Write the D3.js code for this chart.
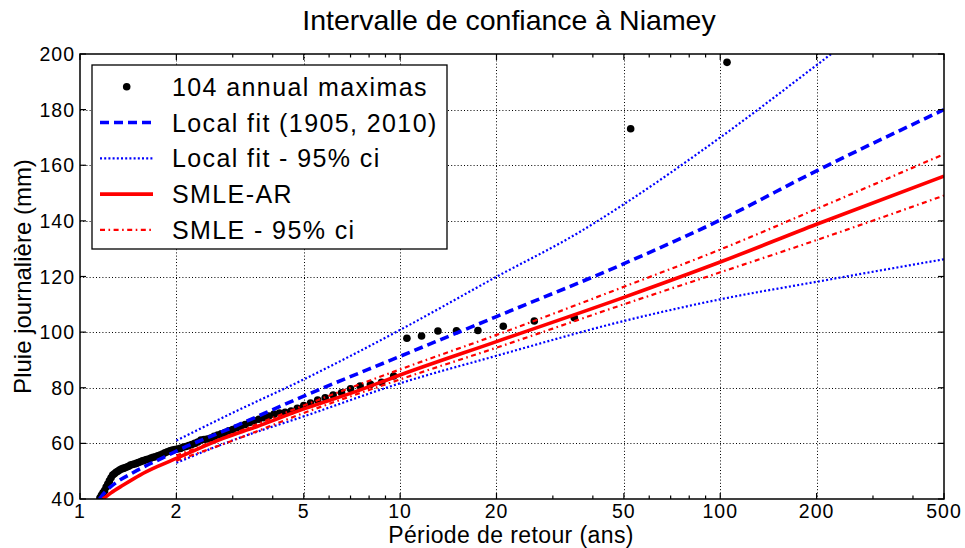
<!DOCTYPE html>
<html>
<head>
<meta charset="utf-8">
<script src="https://cdn.jsdelivr.net/npm/d3@7/dist/d3.min.js"></script>
<style>
  html, body { margin: 0; padding: 0; background: #fff; }
  svg { display: block; font-family: "Liberation Sans", Arial, Helvetica, sans-serif; }
</style>
</head>
<body>
<svg id="chart" width="965" height="548"></svg>
<script>
// ---- Data ----------------------------------------------------------------
// Annual daily-rainfall maxima at Niamey, sorted in decreasing order (mm).
// Return period of rank r is (nYears + 1) / r; values below 40 mm fall off the axis.
const nYears = 104;
const maxima = [
  197.0, 173.1, 105.2, 104.0, 102.1, 100.6, 100.5, 100.4, 98.6, 97.8,
  84.2, 82.0, 81.2, 80.6, 79.6, 78.2, 77.4, 76.4, 75.6, 74.5,
  73.6, 72.6, 71.6, 71.2, 70.9, 70.5, 69.8, 69.2, 68.7, 68.1,
  67.5, 66.8, 66.1, 65.6, 65.0, 64.5, 63.9, 63.4, 63.0, 62.5,
  61.9, 61.6, 61.4, 61.2, 60.5, 60.0, 59.6, 59.2, 58.9, 58.6,
  58.2, 58.0, 57.8, 57.6, 57.3, 57.0, 56.6, 56.2, 55.8, 55.5,
  55.2, 55.0, 54.7, 54.4, 54.2, 53.9, 53.7, 53.4, 53.1, 52.8,
  52.6, 52.4, 52.2, 51.8, 51.5, 51.2, 51.0, 50.8, 50.4, 50.0,
  49.6, 49.1, 48.6, 47.6, 46.5, 45.4, 44.3, 43.0, 42.2, 41.3,
  40.3
];

// Local GEV fit (1905, 2010): return level curve
const localFitT   = [1.15, 1.2, 1.3, 1.45, 1.6, 1.8, 2, 3, 5, 10, 20, 50, 100, 200, 500];
const localFitVal = [40.0, 42.6, 46.0, 49.2, 51.8, 54.6, 57.2, 65.8, 77.0, 91.3, 105.6, 124.6, 140.3, 158.0, 180.0];

// Local fit 95% confidence bounds
const localUpperT   = [2, 3, 5, 10, 20, 36.5, 50, 100, 200, 250];
const localUpperVal = [61.0, 71.0, 83.0, 100.8, 119.9, 136.1, 146.0, 170.0, 196.0, 204.5];
const localLowerT   = [2, 3, 5, 10, 20, 50, 100, 200, 500];
const localLowerVal = [53.0, 61.1, 69.7, 81.6, 91.5, 104.0, 111.8, 118.1, 126.2];

// SMLE-AR return level curve
const smleT   = [1.18, 1.25, 1.365, 1.54, 1.74, 2, 2.8, 3.56, 5, 7.33, 10, 20, 50, 100, 200, 500];
const smleVal = [40.0, 42.2, 45.0, 48.6, 51.6, 54.6, 61.8, 66.0, 72.4, 78.8, 84.6, 96.6, 112.5, 125.2, 138.8, 156.1];

// SMLE 95% confidence bounds
const smleCiT        = [2, 3, 5, 10, 20, 50, 100, 200, 500];
const smleUpperVal   = [55.6, 63.4, 73.6, 86.6, 99.0, 116.3, 129.7, 144.3, 164.0];
const smleLowerVal   = [53.8, 61.0, 70.9, 83.0, 94.4, 110.0, 121.5, 133.1, 149.1];

// Axes
const xMajorTicks = [1, 2, 5, 10, 20, 50, 100, 200, 500];
const xMinorTicks = [3, 4, 6, 7, 8, 9, 30, 40, 60, 70, 80, 90, 300, 400];
const yTicks = [40, 60, 80, 100, 120, 140, 160, 180, 200];

const titleText  = "Intervalle de confiance à Niamey";
const xLabelText = "Période de retour (ans)";
const yLabelText = "Pluie journalière (mm)";
const legendLabels = [
  "104 annual maximas",
  "Local fit (1905, 2010)",
  "Local fit - 95% ci",
  "SMLE-AR",
  "SMLE - 95% ci"
];

// ---- Layout --------------------------------------------------------------
const svg = d3.select("#chart");
const plot = { left: 80, right: 944, top: 54, bottom: 499 };

const x = d3.scaleLog().domain([1, 500]).range([plot.left, plot.right]);
const y = d3.scaleLinear().domain([40, 200]).range([plot.bottom, plot.top]);

svg.append("defs").append("clipPath").attr("id", "plotClip")
  .append("rect")
  .attr("x", plot.left).attr("y", plot.top)
  .attr("width", plot.right - plot.left).attr("height", plot.bottom - plot.top);

// ---- Grid ----------------------------------------------------------------
const grid = svg.append("g").attr("class", "grid")
  .attr("stroke", "#000").attr("stroke-width", 1).attr("stroke-dasharray", "1,2.2");

grid.selectAll("line.vx")
  .data(xMajorTicks.filter(t => t > 1 && t < 500))
  .join("line")
  .attr("x1", d => Math.round(x(d)) + 0.5).attr("x2", d => Math.round(x(d)) + 0.5)
  .attr("y1", plot.top).attr("y2", plot.bottom);

grid.selectAll("line.hy")
  .data(yTicks.filter(t => t > 40 && t < 200))
  .join("line")
  .attr("x1", plot.left).attr("x2", plot.right)
  .attr("y1", d => Math.round(y(d)) + 0.5).attr("y2", d => Math.round(y(d)) + 0.5);

// ---- Data marks -----------------------------------------------------------
const marks = svg.append("g").attr("clip-path", "url(#plotClip)");

const points = maxima.map((v, i) => ({ T: (nYears + 1) / (i + 1), v }));

marks.append("g").selectAll("circle")
  .data(points)
  .join("circle")
  .attr("cx", d => x(d.T))
  .attr("cy", d => y(d.v))
  .attr("r", 3.8)
  .attr("fill", "#000");

const line = d3.line()
  .x(d => x(d[0]))
  .y(d => y(d[1]))
  .curve(d3.curveMonotoneX);

const zip = (ts, vs) => ts.map((t, i) => [t, vs[i]]);

const styles = {
  localFit: { stroke: "#0000ff", width: 3.6, dash: "9,5" },
  localCi:  { stroke: "#0000ff", width: 2.2, dash: "2,2.2" },
  smle:     { stroke: "#ff0000", width: 3.6, dash: null },
  smleCi:   { stroke: "#ff0000", width: 2.2, dash: "5,3.5,1.6,3.5" }
};

function drawCurve(data, s) {
  marks.append("path")
    .datum(data)
    .attr("d", line)
    .attr("fill", "none")
    .attr("stroke", s.stroke)
    .attr("stroke-width", s.width)
    .attr("stroke-dasharray", s.dash);
}

drawCurve(zip(localFitT, localFitVal), styles.localFit);
drawCurve(zip(localUpperT, localUpperVal), styles.localCi);
drawCurve(zip(localLowerT, localLowerVal), styles.localCi);
drawCurve(zip(smleT, smleVal), styles.smle);
drawCurve(zip(smleCiT, smleUpperVal), styles.smleCi);
drawCurve(zip(smleCiT, smleLowerVal), styles.smleCi);

// ---- Axes box and ticks --------------------------------------------------
const axes = svg.append("g").attr("stroke", "#000");

axes.append("rect")
  .attr("x", plot.left).attr("y", plot.top)
  .attr("width", plot.right - plot.left).attr("height", plot.bottom - plot.top)
  .attr("fill", "none").attr("stroke-width", 1.5);

const majorLen = 6, minorLen = 3.5;
const xTickData = xMajorTicks.map(t => ({ t, len: majorLen }))
  .concat(xMinorTicks.map(t => ({ t, len: minorLen })));

axes.selectAll("line.xb").data(xTickData).join("line")
  .attr("x1", d => x(d.t)).attr("x2", d => x(d.t))
  .attr("y1", plot.bottom).attr("y2", d => plot.bottom - d.len)
  .attr("stroke-width", 1.2);
axes.selectAll("line.xt").data(xTickData).join("line")
  .attr("x1", d => x(d.t)).attr("x2", d => x(d.t))
  .attr("y1", plot.top).attr("y2", d => plot.top + d.len)
  .attr("stroke-width", 1.2);
axes.selectAll("line.yl").data(yTicks).join("line")
  .attr("x1", plot.left).attr("x2", plot.left + majorLen)
  .attr("y1", d => y(d)).attr("y2", d => y(d))
  .attr("stroke-width", 1.2);
axes.selectAll("line.yr").data(yTicks).join("line")
  .attr("x1", plot.right).attr("x2", plot.right - majorLen)
  .attr("y1", d => y(d)).attr("y2", d => y(d))
  .attr("stroke-width", 1.2);

// Tick labels
const tickFont = 19.5;
svg.append("g").selectAll("text")
  .data(xMajorTicks)
  .join("text")
  .attr("x", d => x(d))
  .attr("y", plot.bottom + 19)
  .attr("text-anchor", "middle")
  .attr("font-size", tickFont)
  .attr("letter-spacing", 1)
  .attr("fill", "#000")
  .text(d => d);

svg.append("g").selectAll("text")
  .data(yTicks)
  .join("text")
  .attr("x", plot.left - 5)
  .attr("y", d => y(d))
  .attr("dy", "0.36em")
  .attr("text-anchor", "end")
  .attr("font-size", tickFont)
  .attr("letter-spacing", 1)
  .attr("fill", "#000")
  .text(d => d);

// Titles
svg.append("text")
  .attr("x", 509).attr("y", 30)
  .attr("text-anchor", "middle")
  .attr("font-size", 28.5)
  .attr("fill", "#000")
  .text(titleText);

svg.append("text")
  .attr("x", 511).attr("y", 542.5)
  .attr("text-anchor", "middle")
  .attr("font-size", 23)
  .attr("letter-spacing", 0.4)
  .attr("fill", "#000")
  .text(xLabelText);

svg.append("text")
  .attr("transform", `translate(31, ${(plot.top + plot.bottom) / 2}) rotate(-90)`)
  .attr("text-anchor", "middle")
  .attr("font-size", 24)
  .attr("fill", "#000")
  .text(yLabelText);

// ---- Legend ----------------------------------------------------------------
const legend = svg.append("g");
const lg = { x: 92, y: 65, w: 355, h: 184, rowY0: 86.7, rowStep: 35.8 };

legend.append("rect")
  .attr("x", lg.x).attr("y", lg.y)
  .attr("width", lg.w).attr("height", lg.h)
  .attr("fill", "#fff").attr("stroke", "#000").attr("stroke-width", 1.3);

const legendStyles = [null, styles.localFit, styles.localCi, styles.smle, styles.smleCi];

legendLabels.forEach((label, i) => {
  const ry = lg.rowY0 + i * lg.rowStep;
  const s = legendStyles[i];
  if (s === null) {
    legend.append("circle").attr("cx", 126.7).attr("cy", ry).attr("r", 3.8).attr("fill", "#000");
  } else {
    legend.append("line")
      .attr("x1", 100).attr("x2", 153)
      .attr("y1", ry).attr("y2", ry)
      .attr("stroke", s.stroke)
      .attr("stroke-width", s.width)
      .attr("stroke-dasharray", s.dash);
  }
  legend.append("text")
    .attr("x", 172).attr("y", ry)
    .attr("dy", "0.36em")
    .attr("font-size", 25)
    .attr("letter-spacing", 1.4)
    .attr("fill", "#000")
    .text(label);
});
</script>
</body>
</html>
